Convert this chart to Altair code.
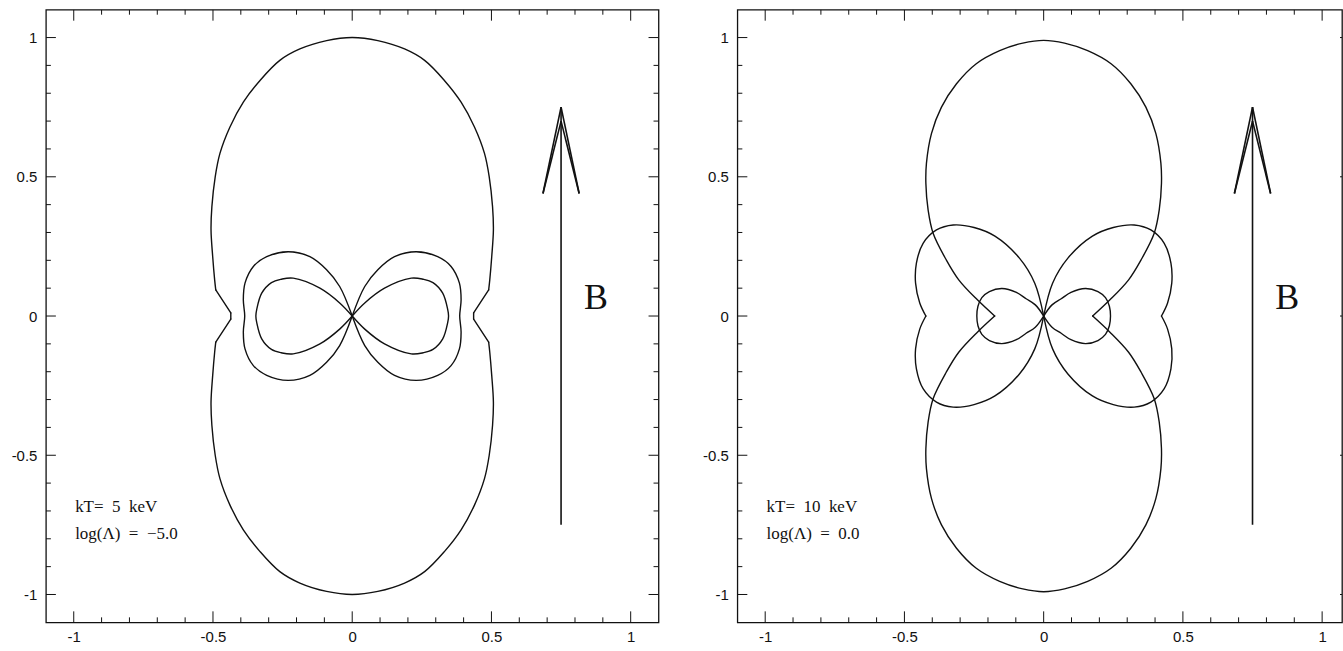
import altair as alt
import pandas as pd

# ---- axes -------------------------------------------------------------
AX_MIN, AX_MAX = -1.1, 1.1
MAJOR_TICKS = [-1.0, -0.5, 0.0, 0.5, 1.0]
MINOR_TICKS = [-0.9, -0.8, -0.7, -0.6, -0.4, -0.3, -0.2, -0.1,
               0.1, 0.2, 0.3, 0.4, 0.6, 0.7, 0.8, 0.9]

# ---- emission patterns ------------------------------------------------
# Upper-left quadrant of each curve, ordered from the field direction (+y)
# round to the perpendicular direction (-x); the other quadrants are mirrors.
# *_corner lists the quadrant indices where the curve has a sharp corner.

# kT = 5 keV, log(Lambda) = -5.0
p1_outer_x = [0.0, -0.092, -0.188, -0.260, -0.331, -0.391, -0.439, -0.475,
              -0.492, -0.504, -0.507, -0.501, -0.494, -0.490, -0.436, -0.436]
p1_outer_y = [1.0, 0.989, 0.959, 0.918, 0.846, 0.768, 0.679, 0.584,
              0.500, 0.392, 0.309, 0.213, 0.130, 0.094, 0.011, 0.0]
p1_outer_corner = [13, 14]
p1_big_x = [0.0, -0.045, -0.092, -0.152, -0.230, -0.307, -0.355, -0.385, -0.391, -0.386]
p1_big_y = [0.0, 0.106, 0.166, 0.213, 0.231, 0.213, 0.178, 0.118, 0.058, 0.0]
p1_big_corner = [0]
p1_small_x = [0.0, -0.045, -0.116, -0.212, -0.255, -0.290, -0.325, -0.343, -0.346]
p1_small_y = [0.0, 0.047, 0.100, 0.136, 0.132, 0.120, 0.082, 0.023, 0.0]
p1_small_corner = [0]

# kT = 10 keV, log(Lambda) = 0.0
p2_outer_x = [0.0, -0.075, -0.158, -0.242, -0.313, -0.367, -0.403, -0.421,
              -0.423, -0.415, -0.397, -0.350, -0.305, -0.238, -0.176]
p2_outer_y = [0.99, 0.980, 0.953, 0.906, 0.834, 0.750, 0.655, 0.548,
              0.476, 0.381, 0.297, 0.202, 0.130, 0.058, 0.0]
p2_outer_corner = [14]
p2_big_x = [0.0, -0.032, -0.087, -0.175, -0.250, -0.325, -0.385, -0.433,
            -0.457, -0.460, -0.445, -0.423]
p2_big_y = [0.0, 0.118, 0.208, 0.287, 0.318, 0.327, 0.309, 0.261,
            0.190, 0.118, 0.047, 0.0]
p2_big_corner = [0, 11]
p2_small_x = [0.0, -0.030, -0.063, -0.098, -0.150, -0.195, -0.222, -0.236, -0.240]
p2_small_y = [0.0, 0.040, 0.062, 0.085, 0.099, 0.088, 0.066, 0.035, 0.0]
p2_small_corner = [0]

# ---- magnetic-field arrow (segments) ------------------------------------
arrow_x1 = [0.75, 0.75, 0.75, 0.75, 0.75]
arrow_y1 = [-0.75, 0.75, 0.75, 0.70, 0.70]
arrow_x2 = [0.75, 0.685, 0.815, 0.685, 0.815]
arrow_y2 = [0.75, 0.44, 0.44, 0.44, 0.44]

# ---- labels -------------------------------------------------------------
NB = "\u00a0"
p1_labels = [f"kT={NB}{NB}5{NB}{NB}keV", f"log(\u039b){NB}{NB}={NB}{NB}\u22125.0"]
p2_labels = [f"kT={NB}{NB}10{NB}{NB}keV", f"log(\u039b){NB}{NB}={NB}{NB}0.0"]
label_x = [-0.995, -0.995]
label_y = [-0.705, -0.800]

PANEL_H = 614
PX_PER_UNIT = PANEL_H / (AX_MAX - AX_MIN)


def mirrored(qx, qy, corners):
    """Close a curve from its upper-left quadrant using the two symmetry axes.
    Returns (x, y, is_corner) triples; the last point repeats the first."""
    n = len(qx)
    q = [(qx[k], qy[k], k in corners) for k in range(n)]
    a = q
    b = [(x, -y, c) for x, y, c in q[n - 2::-1]]
    c_ = [(-x, -y, c) for x, y, c in q[1:]]
    d = [(-x, y, c) for x, y, c in q[n - 2::-1]]
    return a + b + c_ + d


def curve_rows(name, qx, qy, corners):
    pts = mirrored(qx, qy, corners)
    rows = []
    if not any(c for _, _, c in pts):
        for i, (x, y, _) in enumerate(pts[:-1]):
            rows.append({"x": x, "y": y, "piece": name, "i": i})
        return rows, []
    # open the loop at a corner, then cut it into smooth pieces at every corner
    ring = pts[:-1]
    start = next(k for k, p in enumerate(ring) if p[2])
    ring = ring[start:] + ring[:start] + [ring[start]]
    piece, i = 0, 0
    for k, (x, y, c) in enumerate(ring):
        rows.append({"x": x, "y": y, "piece": f"{name}-{piece}", "i": i})
        i += 1
        if c and 0 < k < len(ring) - 1:
            piece += 1
            rows.append({"x": x, "y": y, "piece": f"{name}-{piece}", "i": i})
            i += 1
    return [], rows


def curve_tables(curves):
    closed, opened = [], []
    for name, (qx, qy, corners) in curves.items():
        cl, op = curve_rows(name, qx, qy, corners)
        closed += cl
        opened += op
    return pd.DataFrame(closed), pd.DataFrame(opened)


def panel(curves, labels, width, x_max):
    xs = alt.Scale(domain=[AX_MIN, x_max], nice=False, zero=False)
    ys = alt.Scale(domain=[AX_MIN, AX_MAX], nice=False, zero=False)
    common = dict(values=MAJOR_TICKS, labelExpr="toString(datum.value)",
                  ticks=False, tickSize=0, domain=False, grid=False, title=None,
                  labelFont="Liberation Sans", labelFontSize=15, labelColor="#111")
    xa = alt.Axis(labelPadding=7, labelFlush=False, **common)
    ya = alt.Axis(labelPadding=9, minExtent=40, maxExtent=40, **common)

    def X(f):
        return alt.X(f, type="quantitative", scale=xs, axis=xa)

    def Y(f):
        return alt.Y(f, type="quantitative", scale=ys, axis=ya)

    closed, opened = curve_tables(curves)
    line_style = dict(color="#111", strokeWidth=1.4, strokeJoin="round", strokeCap="round")
    layers = []
    if len(closed):
        layers.append(alt.Chart(closed).mark_line(interpolate="cardinal-closed", **line_style)
                      .encode(x=X("x"), y=Y("y"), detail="piece:N", order="i:Q"))
    if len(opened):
        layers.append(alt.Chart(opened).mark_line(interpolate="catmull-rom", **line_style)
                      .encode(x=X("x"), y=Y("y"), detail="piece:N", order="i:Q"))

    arrow = alt.Chart(pd.DataFrame({"x": arrow_x1, "y": arrow_y1,
                                    "x2": arrow_x2, "y2": arrow_y2})).mark_rule(
        color="#111", strokeWidth=1.6
    ).encode(x=X("x"), y=Y("y"), x2="x2:Q", y2="y2:Q")

    text = alt.Chart(pd.DataFrame({"x": label_x, "y": label_y, "t": labels})).mark_text(
        align="left", baseline="alphabetic", font="Liberation Serif",
        fontSize=17, color="#111"
    ).encode(x=X("x"), y=Y("y"), text="t:N")

    bee = alt.Chart(pd.DataFrame({"x": [0.875], "y": [0.026], "t": ["B"]})).mark_text(
        align="center", baseline="alphabetic", font="Liberation Serif",
        fontSize=36, color="#111"
    ).encode(x=X("x"), y=Y("y"), text="t:N")

    # right-hand ticks sit on the full-size frame edge; clipped where the panel is cut
    edge = PANEL_H
    major = pd.DataFrame({"v": MAJOR_TICKS})
    minor = pd.DataFrame({"v": MINOR_TICKS})
    tick = dict(color="#111", strokeWidth=1, clip=True)
    ticks = [
        alt.Chart(major).mark_rule(**tick).encode(x=X("v"), y=alt.value(PANEL_H), y2=alt.value(PANEL_H - 11)),
        alt.Chart(minor).mark_rule(**tick).encode(x=X("v"), y=alt.value(PANEL_H), y2=alt.value(PANEL_H - 5)),
        alt.Chart(major).mark_rule(**tick).encode(x=X("v"), y=alt.value(0), y2=alt.value(11)),
        alt.Chart(minor).mark_rule(**tick).encode(x=X("v"), y=alt.value(0), y2=alt.value(5)),
        alt.Chart(major).mark_rule(**tick).encode(y=Y("v"), x=alt.value(0), x2=alt.value(10)),
        alt.Chart(minor).mark_rule(**tick).encode(y=Y("v"), x=alt.value(0), x2=alt.value(5)),
        alt.Chart(major).mark_rule(**tick).encode(y=Y("v"), x=alt.value(edge), x2=alt.value(edge - 10)),
        alt.Chart(minor).mark_rule(**tick).encode(y=Y("v"), x=alt.value(edge), x2=alt.value(edge - 5)),
    ]
    return alt.layer(*layers, arrow, text, bee, *ticks).properties(width=width, height=PANEL_H)


left = panel({"outer": (p1_outer_x, p1_outer_y, p1_outer_corner),
              "big": (p1_big_x, p1_big_y, p1_big_corner),
              "small": (p1_small_x, p1_small_y, p1_small_corner)},
             p1_labels, PANEL_H, AX_MAX)

# the right-hand panel runs off the page edge, so its x range stops short
right_w = 606
right = panel({"outer": (p2_outer_x, p2_outer_y, p2_outer_corner),
               "big": (p2_big_x, p2_big_y, p2_big_corner),
               "small": (p2_small_x, p2_small_y, p2_small_corner)},
              p2_labels, right_w, AX_MIN + right_w / PX_PER_UNIT)

chart = alt.hconcat(left, right, spacing=37).properties(
    padding={"left": 5, "top": 8, "right": 0, "bottom": 2},
    background="white",
).configure_view(
    stroke="#111", strokeWidth=1.3
)

chart.save("out.html", embed_options={"renderer": "svg", "actions": False})
